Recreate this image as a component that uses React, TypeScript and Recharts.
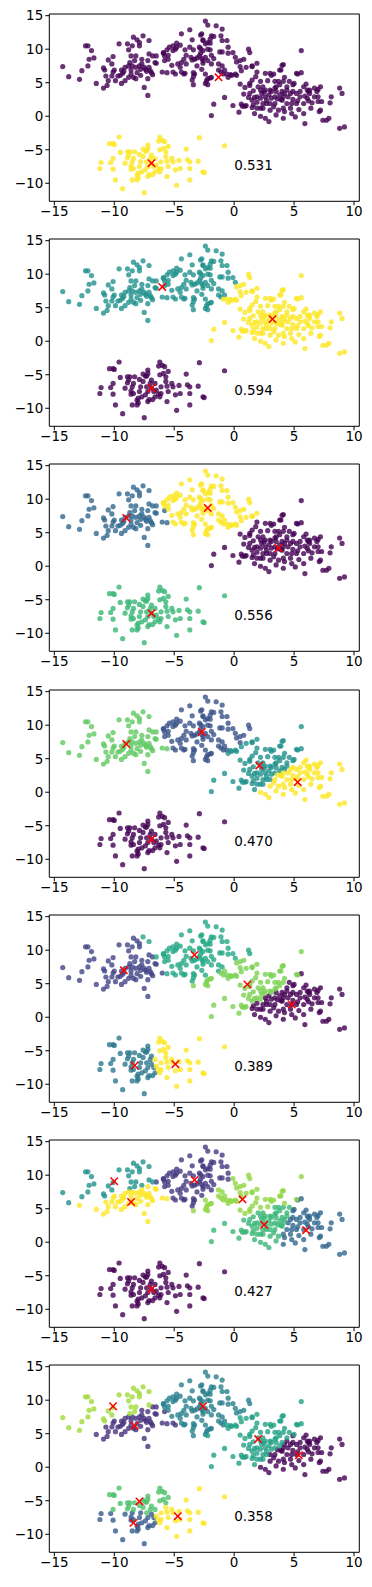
import React from "react";
import { ReferenceArea, Scatter, ScatterChart, XAxis, YAxis } from "recharts";

// points (same data set in every panel)
const leftGroup = [
  [-14.3, 7.4], [-13.8, 5.9], [-12.9, 5.5], [-12.7, 6.8], [-12.4, 10.5], [-12.2, 10.5], [-11.9, 9.8], [-12.2, 7.5],
  [-12.1, 8.5], [-11.7, 8.7], [-11.5, 4.9], [-10.9, 7.2], [-10.8, 6.9], [-10.9, 4.2], [-10.6, 4.6], [-10.5, 5.3],
  [-10.7, 6.0], [-10.5, 8.4], [-10.1, 8.9], [-10.2, 7.8], [-10.0, 6.9], [-9.7, 6.0], [-10.2, 6.0], [-9.6, 10.8],
  [-9.4, 4.9], [-9.4, 6.9], [-9.2, 6.7], [-8.9, 10.8], [-8.8, 9.9], [-8.6, 9.0], [-8.7, 8.0], [-9.1, 5.3],
  [-8.6, 6.9], [-8.5, 7.5], [-8.3, 8.3], [-8.4, 11.8], [-8.1, 11.4], [-7.9, 11.0], [-8.2, 5.6], [-7.9, 10.5],
  [-7.6, 12.0], [-7.7, 8.5], [-7.7, 7.8], [-7.5, 4.3], [-7.2, 5.6], [-7.2, 3.1], [-7.3, 6.7], [-7.1, 11.3],
  [-7.1, 9.3], [-6.8, 9.0], [-7.0, 6.8], [-6.8, 6.2], [-6.5, 9.0], [-6.5, 7.9], [-9.1, 7.3], [-8.8, 7.5],
  [-8.2, 7.3], [-8.1, 6.5], [-7.8, 7.0], [-8.6, 6.3], [-8.4, 5.8], [-7.8, 6.1], [-7.4, 7.0], [-7.1, 7.3],
  [-7.2, 8.3], [-7.5, 7.3], [-7.9, 7.5], [-8.8, 5.8], [-9.5, 6.1], [-9.9, 5.3], [-8.2, 9.0], [-8.5, 10.5],
  [-9.3, 6.4], [-10.1, 6.6],
];

const middleGroup = [
  [-6.9, 6.5], [-6.6, 8.0], [-5.9, 9.5], [-5.8, 9.0], [-5.6, 6.5], [-5.8, 8.3], [-5.5, 8.5], [-5.4, 10.3],
  [-5.1, 10.5], [-4.9, 10.0], [-4.8, 10.3], [-5.1, 9.8], [-4.4, 12.3], [-4.4, 8.0], [-4.7, 7.8], [-4.2, 8.5],
  [-4.9, 6.3], [-4.2, 6.3], [-3.7, 12.9], [-3.5, 11.4], [-3.7, 10.3], [-3.6, 8.8], [-3.3, 8.5], [-3.4, 6.5],
  [-3.3, 6.3], [-2.7, 12.3], [-2.4, 14.2], [-2.6, 11.3], [-2.4, 10.8], [-2.0, 11.5], [-2.9, 10.3], [-2.6, 9.8],
  [-2.2, 10.0], [-2.9, 9.0], [-2.4, 8.8], [-2.2, 8.3], [-1.9, 7.8], [-2.2, 11.0], [-1.9, 12.0], [-2.3, 5.3],
  [-2.2, 5.6], [-1.9, 5.8], [-2.4, 6.3], [-1.5, 13.5], [-1.0, 13.0], [-1.1, 12.0], [-1.0, 11.3], [-1.3, 7.8],
  [-1.0, 7.5], [-0.9, 6.3], [-0.5, 5.8], [-0.2, 6.1], [0.1, 6.3], [-0.5, 10.3], [-0.1, 9.5], [0.1, 8.8],
  [-0.6, 11.3], [0.5, 8.3], [0.8, 8.5], [1.2, 10.0], [1.3, 9.5], [1.0, 7.3], [1.5, 7.5], [0.6, 6.8],
  [0.2, 6.1], [-1.7, 1.8], [-1.9, 0.1], [-0.8, 2.8], [-3.1, 7.5], [-4.0, 7.8], [-4.5, 7.3], [-2.6, 8.3],
  [-2.7, 7.0], [-5.2, 7.6], [-5.1, 6.6], [-4.4, 6.6], [-4.1, 6.4], [-3.4, 9.9], [-3.5, 8.4], [-3.1, 8.7],
  [-2.8, 10.1], [-2.8, 9.4], [-2.7, 8.6], [-2.6, 7.9], [-2.8, 12.1], [-2.6, 11.4], [-2.2, 13.6], [-1.7, 11.9],
  [-2.0, 10.9], [-2.0, 9.9], [-1.9, 9.1], [-1.7, 8.6], [-1.2, 9.6], [-1.0, 9.6], [-1.3, 6.9], [-1.1, 6.6],
  [-0.8, 6.9], [-0.5, 9.4], [0.2, 8.1], [0.5, 7.4], [-5.9, 9.4], [-5.6, 9.9], [-5.5, 9.1], [-4.8, 10.9],
  [-4.5, 10.6], [-4.1, 9.9], [-4.0, 9.1], [-6.0, 6.6], [-3.4, 5.9], [-3.5, 5.4], [-3.4, 4.7], [-2.0, 5.7],
  [-2.4, 4.9], [-2.2, 4.7], [-0.3, 6.2], [-0.6, 6.3],
];

const rightGroup = [
  [1.9, 7.9], [1.5, 7.4], [1.9, 6.6], [1.8, 5.9], [2.6, 6.4], [3.0, 6.4], [3.1, 6.1], [3.3, 6.3],
  [4.0, 7.6], [3.9, 6.9], [5.3, 6.3], [5.6, 6.5], [5.6, 9.8], [1.3, 4.9], [1.5, 5.4], [2.2, 5.2],
  [2.0, 4.4], [2.2, 3.9], [3.4, 5.2], [3.7, 5.2], [4.1, 5.2], [3.5, 4.4], [3.8, 4.7], [3.4, 4.2],
  [3.1, 3.7], [3.5, 3.7], [4.0, 3.7], [4.4, 3.9], [4.2, 3.4], [3.8, 3.2], [3.4, 2.9], [4.1, 2.9],
  [4.5, 2.9], [4.7, 3.4], [4.9, 3.7], [5.2, 3.4], [5.5, 3.7], [5.8, 4.4], [6.2, 3.7], [6.3, 3.4],
  [6.7, 4.2], [6.9, 3.7], [7.2, 4.4], [6.7, 2.9], [7.0, 2.9], [5.5, 2.9], [6.1, 2.7], [5.8, 1.9],
  [5.2, 1.9], [4.8, 1.9], [4.4, 1.9], [4.1, 1.2], [4.7, 1.2], [3.7, 0.9], [4.2, 0.7], [4.8, 0.4],
  [5.1, -0.1], [4.1, -0.3], [3.0, 0.9], [3.3, 1.4], [2.6, -0.3], [2.9, -0.8], [1.7, 0.4], [1.9, 1.2],
  [1.6, 1.7], [1.5, 2.4], [1.3, 3.4], [5.8, 0.4], [5.9, -1.1], [7.2, 0.9], [7.4, -0.6], [7.7, -0.6],
  [7.9, -0.3], [8.1, 2.9], [8.8, 4.2], [9.0, 3.4], [8.8, -1.8], [9.2, -1.6], [2.2, 1.2], [3.0, 1.9],
  [1.9, 2.9], [2.4, 1.2], [3.4, 1.9], [4.0, 2.4], [4.4, 4.4], [3.1, 2.7], [2.4, 4.4], [2.3, 3.4],
  [2.6, 2.9], [2.7, 2.4], [2.4, 1.9], [2.7, 1.9], [2.2, 2.7], [2.5, 3.6], [2.6, 3.9], [2.9, 3.2],
  [3.0, 3.9], [3.9, 2.5], [0.5, 4.8], [0.9, 4.3], [1.3, 4.6], [1.6, 3.8], [0.8, 3.3], [1.2, 2.8],
  [1.7, 2.8], [1.9, 2.1], [0.6, 1.8], [1.0, 1.6], [1.5, 1.3], [0.4, 0.6], [-0.1, 1.6], [0.7, 1.5],
  [0.9, 1.5], [7.1, 0.7], [7.0, 2.2], [7.3, 2.2], [8.0, 2.0], [3.8, 6.9], [4.1, 7.7], [5.2, 6.4],
  [4.6, 5.2], [5.0, 4.9], [5.9, 3.0], [6.5, 2.0], [6.4, 1.2], [5.4, 1.0], [3.5, 0.2], [2.2, 0.0],
  [7.0, 4.0], [6.0, 4.8], [4.2, 5.8], [2.8, 5.3], [3.6, 2.6], [4.9, 2.5], [5.3, 2.3], [6.2, 2.3],
  [4.9, 4.7], [6.1, 3.9], [6.3, 3.9],
];

const lowerGroup = [
  [-11.2, -7.8], [-11.1, -6.9], [-10.4, -4.1], [-10.1, -4.1], [-10.0, -4.2], [-9.6, -3.1], [-10.1, -6.3], [-10.3, -6.9],
  [-10.1, -7.9], [-9.9, -9.5], [-9.3, -10.8], [-9.5, -5.4], [-8.9, -5.3], [-8.8, -5.8], [-8.9, -6.2], [-8.4, -6.3],
  [-8.5, -6.8], [-9.1, -7.0], [-8.6, -7.4], [-8.6, -7.9], [-8.5, -9.5], [-8.1, -8.8], [-8.0, -8.5], [-7.9, -5.7],
  [-7.8, -6.8], [-7.6, -4.9], [-7.4, -5.2], [-7.2, -4.3], [-7.2, -4.8], [-7.0, -6.3], [-6.9, -5.8], [-6.9, -7.0],
  [-6.2, -3.1], [-6.3, -3.7], [-6.0, -3.6], [-5.8, -3.8], [-7.1, -8.7], [-6.8, -8.7], [-6.6, -8.3], [-7.2, -9.0],
  [-6.2, -8.3], [-6.3, -7.9], [-6.1, -7.8], [-6.5, -7.3], [-6.7, -7.5], [-8.0, -9.2], [-8.1, -9.5], [-7.5, -11.4],
  [-5.7, -5.3], [-5.7, -6.0], [-5.5, -7.5], [-5.2, -6.3], [-5.1, -6.8], [-5.6, -9.0], [-4.6, -6.6], [-4.5, -7.8],
  [-4.8, -10.3], [-4.9, -8.0], [-4.0, -4.9], [-3.9, -6.5], [-3.7, -6.8], [-3.7, -9.5], [-3.0, -6.7], [-2.9, -3.2],
  [-2.6, -8.3], [-0.8, -4.4], [-3.7, -7.8], [-7.3, -5.2], [-7.6, -6.0], [-8.3, -5.3], [-7.9, -7.5], [-7.4, -8.0],
  [-7.2, -7.5], [-6.6, -6.3], [-6.1, -6.8], [-5.6, -6.7], [-6.2, -5.0], [-5.9, -4.8], [-7.3, -6.8], [-7.7, -8.3],
  [-5.5, -4.5], [-8.7, -5.3], [-8.4, -7.8], [-2.5, -8.4],
];

const allPoints = [...leftGroup, ...middleGroup, ...rightGroup, ...lowerGroup];

// cluster centres (red x), listed in label order so colour = viridis(label / (k - 1))
const centers2 = [[-1.3, 5.8], [-6.9, -7.0]];
const centers3 = [[-6.9, -7.0], [-6.0, 8.1], [3.2, 3.3]];
const centers4 = [[3.7, 2.7], [-9.0, 7.2], [-6.9, -7.0], [-2.2, 8.7]];
const centers5 = [[-6.9, -7.0], [-2.7, 9.0], [2.1, 4.0], [-9.0, 7.2], [5.3, 1.5]];
const centers6 = [[4.8, 1.9], [-9.2, 7.0], [-8.3, -7.2], [-3.3, 9.3], [1.1, 4.9], [-4.9, -7.0]];
const centers7 = [[-6.9, -7.0], [-3.3, 9.3], [6.0, 1.8], [-10.0, 9.1], [2.5, 2.6], [0.7, 6.4], [-8.6, 6.0]];
const centers8 = [[5.4, 1.8], [-8.3, 6.2], [-8.4, -8.3], [-2.6, 9.1], [2.0, 4.2], [-7.9, -5.1], [-10.1, 9.1], [-4.7, -7.3]];
const allCenters = [centers2, centers3, centers4, centers5, centers6, centers7, centers8];

const scores = ["0.531", "0.594", "0.556", "0.470", "0.389", "0.427", "0.358"];

const xTicks = [-15, -10, -5, 0, 5, 10];
const yTicks = [-10, -5, 0, 5, 10, 15];

const xDomain = [-15.42, 10.44];
const yDomain = [-12.69, 15.25];

const viridisStops = ["#440154", "#482475", "#414487", "#355f8d", "#2a788e", "#21918c", "#22a884", "#44bf70", "#7ad151", "#bddf26", "#fde725"];

function viridis(t: number) {
  const pos = t * 10;
  const i = Math.min(9, Math.floor(pos));
  const f = pos - i;
  const a = viridisStops[i], b = viridisStops[i + 1];
  const ch = (s: string, o: number) => parseInt(s.slice(o, o + 2), 16);
  const mix = (o: number) => Math.round(ch(a, o) + (ch(b, o) - ch(a, o)) * f);
  return `rgb(${mix(1)},${mix(3)},${mix(5)})`;
}

const fmt = (v: number) => (v < 0 ? `\u2212${-v}` : `${v}`);
const FONT = "DejaVu Sans, sans-serif";
const PANEL_STEP = 225.2;

function Panel({ centers, score }: { centers: number[][]; score: string }) {
  const k = centers.length;
  const groups: { x: number; y: number }[][] = centers.map(() => []);
  allPoints.forEach(([x, y]) => {
    let best = 0;
    let bestD = Infinity;
    centers.forEach(([cx, cy], i) => {
      const d = (x - cx) ** 2 + (y - cy) ** 2;
      if (d < bestD) { bestD = d; best = i; }
    });
    groups[best].push({ x, y });
  });
  const centerData = centers.map(([x, y]) => ({ x, y }));

  return (
    <ScatterChart width={372} height={226} margin={{ top: 14, right: 12.7, bottom: 0, left: 0 }}>
      <XAxis
        type="number" dataKey="x" domain={xDomain} ticks={xTicks} allowDataOverflow
        tickFormatter={fmt} height={24.7} tickSize={4} tickMargin={1}
        axisLine={false} tickLine={{ stroke: "#000", strokeWidth: 1 }}
        tick={{ fill: "#000", fontSize: 13.5, fontFamily: FONT }}
      />
      <YAxis
        type="number" dataKey="y" domain={yDomain} ticks={yTicks} allowDataOverflow
        tickFormatter={fmt} width={49.3} tickSize={4} tickMargin={2}
        axisLine={false} tickLine={{ stroke: "#000", strokeWidth: 1 }}
        tick={{ fill: "#000", fontSize: 13.5, fontFamily: FONT }}
      />
      {groups.map((g, i) => (
        <Scatter
          key={i}
          data={g}
          isAnimationActive={false}
          shape={(p: any) => (
            <circle cx={p.cx} cy={p.cy} r={2.6} fill={viridis(k > 1 ? i / (k - 1) : 0)} fillOpacity={0.8} />
          )}
        />
      ))}
      <Scatter
        data={centerData}
        isAnimationActive={false}
        shape={(p: any) => (
          <g stroke="#ff0000" strokeWidth={1.5}>
            <line x1={p.cx - 3.7} y1={p.cy - 3.7} x2={p.cx + 3.7} y2={p.cy + 3.7} />
            <line x1={p.cx - 3.7} y1={p.cy + 3.7} x2={p.cx + 3.7} y2={p.cy - 3.7} />
          </g>
        )}
      />
      <Scatter
        data={[{ x: 0, y: -8 }]}
        isAnimationActive={false}
        shape={(p: any) => (
          <text x={p.cx} y={p.cy} fontSize={13.5} fontFamily={FONT} fill="#000">{score}</text>
        )}
      />
      <ReferenceArea
        x1={xDomain[0]} x2={xDomain[1]} y1={yDomain[0]} y2={yDomain[1]}
        fill="none" stroke="#000" strokeWidth={1} strokeOpacity={1}
      />
    </ScatterChart>
  );
}

export default function App() {
  return (
    <div style={{ position: "absolute", left: 0, top: 0, width: 372, height: 1587, background: "#fff" }}>
      {allCenters.map((c, i) => (
        <div key={i} style={{ position: "absolute", left: 0, top: i * PANEL_STEP }}>
          <Panel centers={c} score={scores[i]} />
        </div>
      ))}
    </div>
  );
}
